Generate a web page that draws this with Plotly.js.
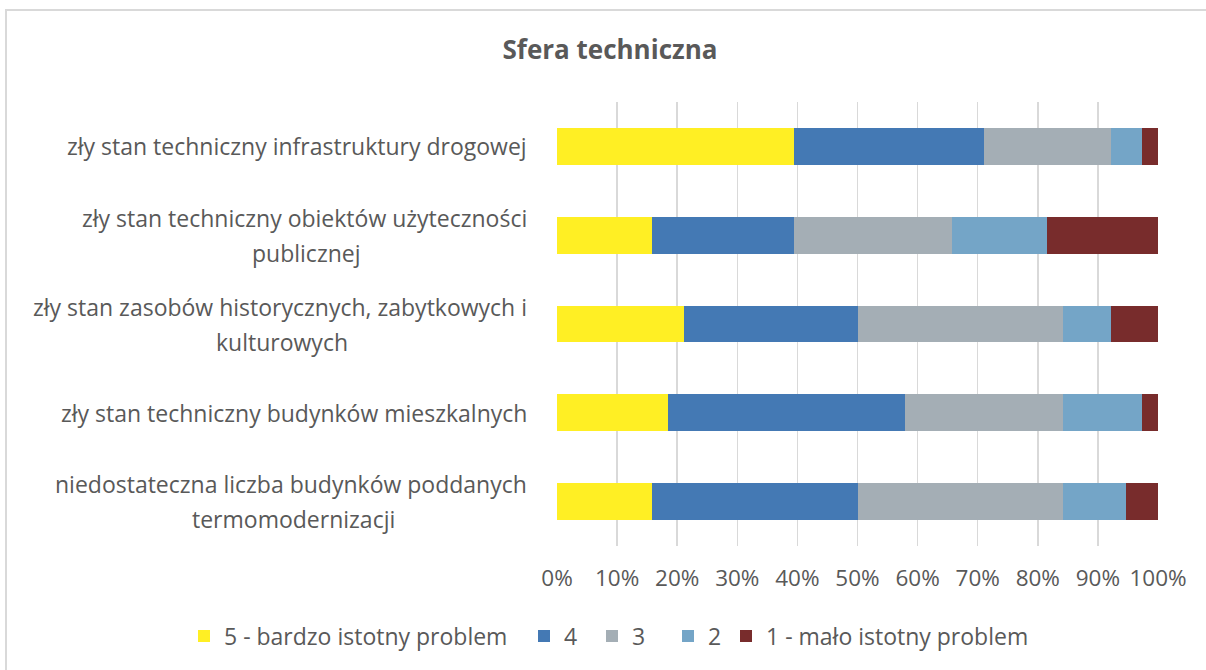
<!DOCTYPE html>
<html>
<head>
<meta charset="utf-8">
<script src="https://cdn.plot.ly/plotly-3.0.1.min.js"></script>
<style>
  html, body { margin: 0; padding: 0; background: #fff; overflow: hidden; }
  #frame { position: absolute; left: 5px; top: 9px; width: 1400px; height: 900px; border: 2px solid #d9d9d9; box-sizing: border-box; }
  #chart { position: absolute; left: 0; top: 0; width: 1206px; height: 670px; }
</style>
</head>
<body>
<div id="frame"></div>
<div id="chart"></div>
<script>
// Categories (top to bottom)
const categories = [
  "zły stan techniczny infrastruktury drogowej",
  "zły stan techniczny obiektów użyteczności<br>publicznej",
  "zły stan zasobów historycznych, zabytkowych i<br>kulturowych",
  "zły stan techniczny budynków mieszkalnych",
  "niedostateczna liczba budynków poddanych<br>termomodernizacji"
];
const categoryKeys = ["drogowa", "publiczne", "zabytki", "mieszkalne", "termo"];

// Number of answers per rating
const rating5 = [15, 6, 8, 7, 6];
const rating4 = [12, 9, 11, 15, 13];
const rating3 = [8, 10, 13, 10, 13];
const rating2 = [2, 6, 3, 5, 4];
const rating1 = [1, 7, 3, 1, 2];

const seriesNames = ["5 - bardzo istotny problem", "4", "3", "2", "1 - mało istotny problem"];
const seriesColors = ["#FFEF24", "#4479B4", "#A4AEB5", "#74A5C7", "#782C2C"];
const seriesValues = [rating5, rating4, rating3, rating2, rating1];

const xTickVals = [0, 10, 20, 30, 40, 50, 60, 70, 80, 90, 100];
const xTickText = ["0%", "10%", "20%", "30%", "40%", "50%", "60%", "70%", "80%", "90%", "100%"];

const FONT = "Open Sans, Noto Sans, sans-serif";
const TXT = "#595959";
const LABEL_SIZE = 23;

// plot geometry (pixels)
const PL = 557, PR = 1158, PT = 102, PB = 546;
const PW = PR - PL, PH = PB - PT;

const legendIds = ["legend", "legend2", "legend3", "legend4", "legend5"];
const legendStartPx = [184, 524, 592, 668, 726];

const traces = seriesValues.map((vals, i) => ({
  type: "bar",
  orientation: "h",
  name: seriesNames[i],
  x: vals,
  y: categoryKeys,
  legend: legendIds[i],
  marker: { color: seriesColors[i], line: { width: 0 } },
  hoverinfo: "name+x"
}));

// measure text width for centering wrapped label lines
const cv = document.createElement("canvas").getContext("2d");
cv.font = LABEL_SIZE + "px 'Open Sans'";
function textW(s) { return cv.measureText(s).width; }

const LINE_GAP = 35;
const annotations = [];
categories.forEach((c, i) => {
  const lines = c.split("<br>");
  const w0 = textW(lines[0]);
  lines.forEach((ln, k) => {
    const yOff = (lines.length - 1) * LINE_GAP / 2 - k * LINE_GAP;
    annotations.push({
      xref: "paper", yref: "y",
      x: 0, y: categoryKeys[i],
      xanchor: k === 0 ? "right" : "center",
      yanchor: "middle",
      xshift: k === 0 ? -28 : -28 - w0 / 2,
      yshift: yOff,
      showarrow: false,
      text: ln,
      font: { family: FONT, size: LABEL_SIZE, color: TXT }
    });
  });
});

const layout = {
  width: 1206, height: 670,
  margin: { l: PL, r: 1206 - PR, t: PT, b: 670 - PB, autoexpand: false },
  paper_bgcolor: "rgba(0,0,0,0)",
  plot_bgcolor: "rgba(0,0,0,0)",
  barmode: "stack",
  barnorm: "percent",
  bargap: 0.585,
  title: {
    text: "<b>Sfera techniczna</b>",
    x: 610 / 1206, xref: "container", xanchor: "center",
    y: 1 - 50 / 670, yref: "container", yanchor: "middle",
    font: { family: FONT, size: 26, color: TXT }
  },
  xaxis: {
    range: [0, 100],
    tickvals: xTickVals,
    ticktext: xTickText,
    showgrid: true,
    gridcolor: "#d9d9d9",
    gridwidth: 1.5,
    zeroline: false,
    showline: false,
    ticks: "",
    ticklabelstandoff: 16,
    tickfont: { family: FONT, size: 22.5, color: TXT },
    fixedrange: true
  },
  yaxis: {
    type: "category",
    autorange: "reversed",
    showticklabels: false,
    showgrid: false,
    zeroline: false,
    showline: false,
    ticks: "",
    fixedrange: true
  },
  showlegend: true,
  annotations: annotations
};

legendIds.forEach((id, i) => {
  layout[id] = {
    orientation: "h",
    x: (legendStartPx[i] - PL) / PW, xanchor: "left",
    y: (PB - 636) / PH, yanchor: "middle",
    font: { family: FONT, size: LABEL_SIZE, color: TXT },
    itemwidth: 30,
    bgcolor: "rgba(0,0,0,0)",
    borderwidth: 0
  };
});

Plotly.newPlot("chart", traces, layout, { displayModeBar: false, staticPlot: true });
</script>
</body>
</html>
